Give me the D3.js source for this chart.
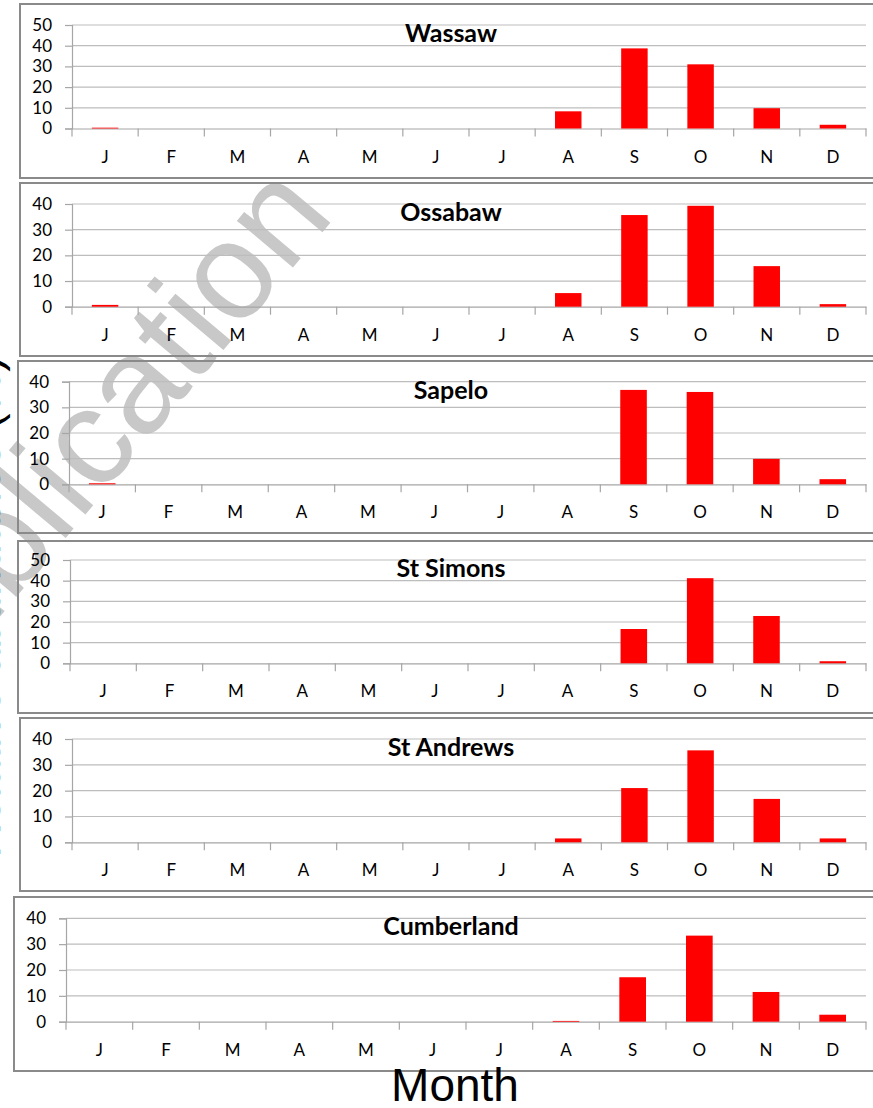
<!DOCTYPE html>
<html>
<head>
<meta charset="utf-8">
<script src="https://cdn.jsdelivr.net/npm/d3@7"></script>
<style>
  body { margin: 0; background: #fff; }
  svg { display: block; }
</style>
</head>
<body>
<div id="chart"></div>
<script>
// Monthly values (%)
const months = ["J", "F", "M", "A", "M", "J", "J", "A", "S", "O", "N", "D"];
const sites = ["Wassaw", "Ossabaw", "Sapelo", "St Simons", "St Andrews", "Cumberland"];
const wassaw     = [0.4, 0, 0, 0, 0, 0, 0, 8.3, 38.7, 31.0, 9.8, 1.8];
const ossabaw    = [0.7, 0, 0, 0, 0, 0, 0, 5.3, 35.7, 39.3, 15.8, 1.0];
const sapelo     = [0.4, 0, 0, 0, 0, 0, 0, 0, 36.8, 36.0, 9.9, 2.0];
const stSimons   = [0, 0, 0, 0, 0, 0, 0, 0, 16.6, 41.2, 22.9, 1.0];
const stAndrews  = [0, 0, 0, 0, 0, 0, 0, 1.5, 21.0, 35.6, 16.8, 1.5];
const cumberland = [0, 0, 0, 0, 0, 0, 0, 0.3, 17.2, 33.3, 11.5, 2.7];
const yMaxes = [50, 40, 40, 50, 40, 40];

const seriesList = [wassaw, ossabaw, sapelo, stSimons, stAndrews, cumberland];

// Layout of each panel box and plot area (pixels)
const layout = [
  {box: [20, 4, 880, 178],   x0: 72, yTop: 25,    yZero: 128.5},
  {box: [20, 183, 880, 356], x0: 72, yTop: 204,   yZero: 306.7},
  {box: [18, 361, 880, 533], x0: 69, yTop: 381.7, yZero: 484.3},
  {box: [18, 541, 880, 713], x0: 70, yTop: 560,   yZero: 663.3},
  {box: [20, 718, 880, 891], x0: 72, yTop: 739,   yZero: 842.3},
  {box: [14, 897, 880, 1071], x0: 66, yTop: 918.3, yZero: 1021.7}
];

const width = 873;
const height = 1108;
const plotRight = 866;
const titleX = 451;
const tickFont = "Lato, 'Open Sans', sans-serif";

const svg = d3.select("#chart")
  .append("svg")
  .attr("width", width)
  .attr("height", height);

// watermark behind everything
svg.append("text")
  .attr("transform", "translate(336,216) rotate(-50)")
  .attr("text-anchor", "end")
  .attr("font-family", "Arial, 'Liberation Sans', sans-serif")
  .attr("font-size", 138)
  .attr("fill", "#c8c8c8")
  .text("Not for publication");

seriesList.forEach(function(values, p) {
  const L = layout[p];
  const g = svg.append("g");

  // panel frame
  g.append("rect")
    .attr("x", L.box[0])
    .attr("y", L.box[1])
    .attr("width", L.box[2] - L.box[0])
    .attr("height", L.box[3] - L.box[1])
    .attr("fill", "none")
    .attr("stroke", "#8a8a8a")
    .attr("stroke-width", 2);

  const x = d3.scaleBand()
    .domain(d3.range(months.length))
    .range([L.x0, plotRight])
    .padding(0);

  const y = d3.scaleLinear()
    .domain([0, yMaxes[p]])
    .range([L.yZero, L.yTop]);

  const yTicks = d3.range(0, yMaxes[p] + 1, 10);

  // gridlines
  g.selectAll(".grid")
    .data(yTicks.filter(t => t > 0))
    .enter()
    .append("line")
      .attr("x1", L.x0)
      .attr("x2", plotRight)
      .attr("y1", d => y(d))
      .attr("y2", d => y(d))
      .attr("stroke", "#bdbdbd")
      .attr("stroke-width", 1.2);

  // y axis
  const yAxis = g.append("g")
    .attr("transform", `translate(${L.x0},0)`)
    .call(d3.axisLeft(y).tickValues(yTicks).tickSize(7).tickPadding(13));
  yAxis.select(".domain").attr("stroke", "#a6a6a6").attr("stroke-width", 1.2);
  yAxis.selectAll(".tick line").attr("stroke", "#a6a6a6").attr("stroke-width", 1.2);
  yAxis.selectAll("text")
    .attr("font-family", tickFont)
    .attr("font-size", 17)
    .attr("fill", "#000");

  // x axis
  const xAxis = g.append("g")
    .attr("transform", `translate(0,${L.yZero})`)
    .call(d3.axisBottom(x).tickFormat(i => months[i]).tickSize(0).tickPadding(22));
  xAxis.select(".domain").attr("stroke", "#a6a6a6").attr("stroke-width", 1.2);
  xAxis.selectAll("text")
    .attr("font-family", tickFont)
    .attr("font-size", 17)
    .attr("fill", "#000");

  // category tick marks at band edges
  g.selectAll(".xtick")
    .data(d3.range(months.length + 1))
    .enter()
    .append("line")
      .attr("x1", i => i < months.length ? x(i) : plotRight)
      .attr("x2", i => i < months.length ? x(i) : plotRight)
      .attr("y1", L.yZero)
      .attr("y2", L.yZero + 8)
      .attr("stroke", "#a6a6a6")
      .attr("stroke-width", 1.2);

  // bars
  const bw = x.bandwidth() * 0.4;
  g.selectAll(".bar")
    .data(values)
    .enter()
    .append("rect")
      .attr("class", "bar")
      .attr("x", (d, i) => x(i) + (x.bandwidth() - bw) / 2)
      .attr("y", d => y(d))
      .attr("width", bw)
      .attr("height", d => L.yZero - y(d))
      .attr("fill", "#ff0000");

  // panel title
  g.append("text")
    .attr("x", titleX)
    .attr("y", L.yTop + 17)
    .attr("text-anchor", "middle")
    .attr("font-family", tickFont)
    .attr("font-weight", "bold")
    .attr("font-size", 25)
    .attr("fill", "#000")
    .text(sites[p]);
});

// shared y label, mostly cut off at the left edge as in the source figure
svg.append("text")
  .attr("transform", "translate(0,356) rotate(-90)")
  .attr("text-anchor", "end")
  .attr("font-family", "Arial, 'Liberation Sans', sans-serif")
  .attr("font-size", 47)
  .attr("fill", "#000")
  .text("Relative abundance (%)");

// shared x label
svg.append("text")
  .attr("x", 455)
  .attr("y", 1101)
  .attr("text-anchor", "middle")
  .attr("font-family", "Arial, 'Liberation Sans', sans-serif")
  .attr("font-size", 46)
  .attr("fill", "#000")
  .text("Month");
</script>
</body>
</html>
